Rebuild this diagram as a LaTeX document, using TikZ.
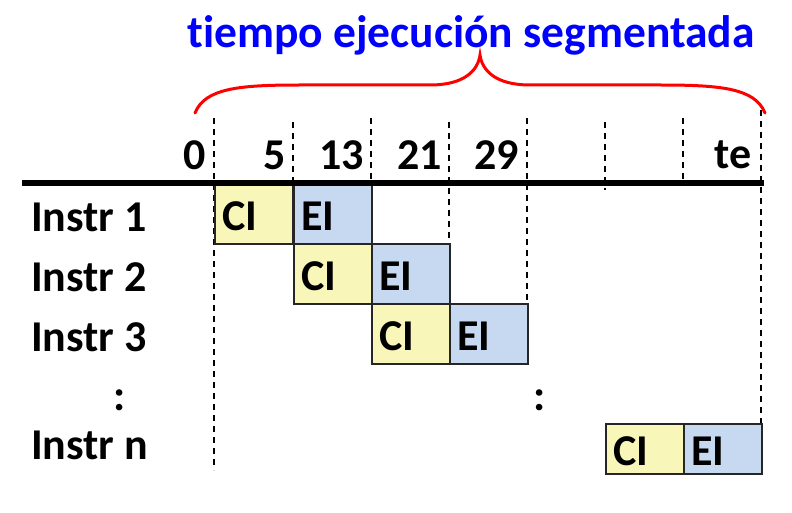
\documentclass[tikz,border=0pt]{standalone}
\usepackage{fontspec}
\setmainfont{Carlito}[Ligatures=NoCommon]
\definecolor{yel}{RGB}{248,246,184}
\definecolor{blu}{RGB}{198,217,240}
\begin{document}
\begin{tikzpicture}[x=1pt,y=-1pt,
  lbl/.style={font=\fontsize{44}{48}\selectfont\bfseries, inner sep=0pt},
  cell/.style={draw=black!85, line width=1.6pt, minimum width=78pt, minimum height=60pt,
     inner sep=0pt, anchor=north west},
  cibox/.style={cell, fill=yel},
  eibox/.style={cell, fill=blu},
  tick/.style={line width=1.6pt, dash pattern=on 6pt off 5pt},
]
\useasboundingbox (0,0) rectangle (792,513);
% title
\node[font=\fontsize{45.5}{50}\selectfont\bfseries, text=blue] (title) at (471,35) {tiempo ejecución segmentada};
% brace
\draw[red, line width=3pt, line cap=round]
  (195,113) .. controls (205,88) and (240,85) .. (300,85) -- (430,85)
  .. controls (465,85) and (478,70) .. (480,55)
  .. controls (482,70) and (495,85) .. (530,85) -- (660,85)
  .. controls (720,85) and (755,88) .. (765,113);
% dashed time marks
\draw[tick] (214,118) -- (214,470);
\draw[tick] (293,122) -- (293,183);
\draw[tick] (371,118) -- (371,183);
\draw[tick] (449,122) -- (449,243);
\draw[tick] (527,118) -- (527,303);
\draw[tick] (605,122) -- (605,190);
\draw[tick] (683,118) -- (683,183);
\draw[tick] (761,110) -- (761,423);
% time labels
\node[lbl, anchor=east] (t0) at (206,155) {0};
\node[lbl, anchor=east] (t5) at (286,155) {5};
\node[lbl, anchor=east] (t13) at (364,155) {13};
\node[lbl, anchor=east] (t21) at (442,155) {21};
\node[lbl, anchor=east] (t29) at (519,155) {29};
\node[lbl, anchor=east] (tte) at (752,155) {te};
% boxes
\node[cibox] (c1) at (214,183) {};
\node[eibox] (e1) at (293,183) {};
\node[cibox] (c2) at (293,243) {};
\node[eibox] (e2) at (371,243) {};
\node[cibox] (c3) at (371,303) {};
\node[eibox] (e3) at (449,303) {};
\node[cibox, minimum height=50pt] (cn) at (605,423) {};
\node[eibox, minimum height=50pt] (en) at (683,423) {};
\foreach \b/\t in {c1/CI,e1/EI,c2/CI,e2/EI,c3/CI,e3/EI,cn/CI,en/EI}
  \node[lbl, anchor=west] (\b t) at ([xshift=8pt,yshift=-2pt]\b.west) {\t};
% axis
\draw[line width=6pt] (22,183) -- (764,183);
% row labels
\node[lbl, anchor=west] (r1) at (31,217) {Instr 1};
\node[lbl, anchor=west] (r2) at (31,277) {Instr 2};
\node[lbl, anchor=west] (r3) at (31,337) {Instr 3};
\node[lbl] (d1) at (120,400) {:};
\node[lbl] (d2) at (540,400) {:};
\node[lbl, anchor=west] (rn) at (31,445) {Instr n};
\end{tikzpicture}
\end{document}
